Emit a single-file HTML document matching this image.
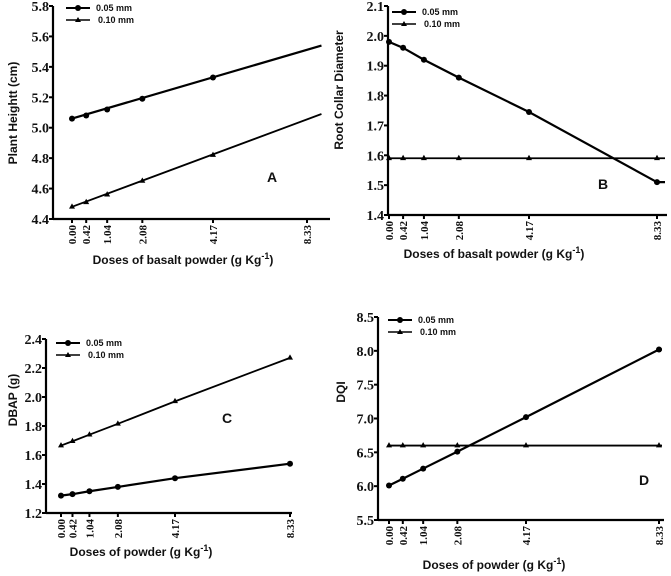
<!DOCTYPE html>
<html><head><meta charset="utf-8"><style>
html,body{margin:0;padding:0;background:#fff;}
svg{display:block;}
.tk{font-family:"Liberation Serif",serif;font-weight:bold;font-size:14px;fill:#111;}
.tx{font-family:"Liberation Serif",serif;font-weight:bold;font-size:11px;fill:#111;}
.tt{font-family:"Liberation Sans",sans-serif;font-weight:bold;font-size:12px;fill:#111;}
.lg{font-family:"Liberation Sans",sans-serif;font-weight:bold;font-size:9px;fill:#111;}
.pl{font-family:"Liberation Sans",sans-serif;font-weight:bold;font-size:14px;fill:#111;}
</style></head><body>
<svg id="chart" width="671" height="576"></svg>
<script>
const doses=[0,0.42,1.04,2.08,4.17,8.33];
const doseLabels=["0.00","0.42","1.04","2.08","4.17","8.33"];
const aTicks=[4.4,4.6,4.8,5.0,5.2,5.4,5.6,5.8];
const a05=[5.06,5.08,5.12,5.19,5.33];
const a10=[4.48,4.51,4.56,4.65,4.82];
const aFit05=5.54, aFit10=5.09;
const bTicks=[1.4,1.5,1.6,1.7,1.8,1.9,2.0,2.1];
const b05=[1.98,1.96,1.92,1.86,1.745,1.51];
const b10=[1.59,1.59,1.59,1.59,1.59,1.59];
const cTicks=[1.2,1.4,1.6,1.8,2.0,2.2,2.4];
const c05=[1.32,1.33,1.35,1.38,1.44,1.54];
const c10=[1.665,1.695,1.74,1.815,1.97,2.27];
const dTicks=[5.5,6.0,6.5,7.0,7.5,8.0,8.5];
const d05=[6.01,6.11,6.26,6.51,7.02,8.02];
const d10=[6.6,6.6,6.6,6.6,6.6,6.6];

const NS="http://www.w3.org/2000/svg";
const svg=document.getElementById('chart');
function mk(tag,at,parent,txt){const e=document.createElementNS(NS,tag);for(const k in at)e.setAttribute(k,at[k]);if(txt!==undefined)e.textContent=txt;(parent||svg).appendChild(e);return e;}

function panel(p){
  const g=mk('g',{});
  
  
  const ymin=p.ticks[0],ymax=p.ticks[p.ticks.length-1];
  const y=v=>p.yb+(v-ymin)/(ymax-ymin)*(p.yt-p.yb);
  const x=d=>d<=4.17?p.xr[0]+d/4.17*(p.xr[1]-p.xr[0]):p.xr[1]+(d-4.17)/4.16*(p.xr[2]-p.xr[1]);
  const ya=mk('line',{x1:p.ax,y1:p.yt,x2:p.ax,y2:p.yb+1,stroke:'#000','stroke-width':2.2},g);
  
  const xa=mk('line',{x1:p.ax,y1:p.yb,x2:p.xend,y2:p.yb,stroke:'#000','stroke-width':2.2},g);
  
  p.ticks.forEach(t=>{
    mk('line',{x1:p.ax-4,y1:y(t),x2:p.ax,y2:y(t),stroke:'#000','stroke-width':2},g);
    const l=mk('text',{x:p.ax-4,y:y(t)+5,'text-anchor':'end',class:'tk'},g,t.toFixed(1));
    
  });
  doses.forEach((d,i)=>{
    mk('line',{x1:x(d),y1:p.yb,x2:x(d),y2:p.yb+4,stroke:'#000','stroke-width':2},g);
    const l=mk('text',{x:0,y:0,'text-anchor':'end',class:'tx',transform:`translate(${x(d)+4},${p.yb+6}) rotate(-90)`},g,doseLabels[i]);
    
  });
  [[p.s05,'circle',p.fit05],[p.s10,'tri',p.fit10]].forEach(([s,m,fit])=>{
    let pts=s.map((v,i)=>[x(doses[i]),y(v)]);
    let lp=pts.slice();
    if(fit!==undefined) lp=[pts[0],[x(p.fitDose),y(fit)]];
    if(p.extendFlat) lp.push([p.xend-2,y(s[s.length-1])]);
    const pl=mk('polyline',{points:lp.map(q=>q.join(',')).join(' '),fill:'none',stroke:'#000','stroke-width':m==='circle'?2.2:1.8},g);
    
    pts.forEach(q=>{
      let e;
      if(m==='circle') e=mk('circle',{cx:q[0],cy:q[1],r:3,fill:'#000'},g);
      else e=mk('polygon',{points:`${q[0]},${q[1]-3.5} ${q[0]-3},${q[1]+1.8} ${q[0]+3},${q[1]+1.8}`,fill:'#000'},g);
      
    });
  });
  const lg=mk('g',{},g);
  const [lx,ly]=p.leg;
  mk('line',{x1:lx,y1:ly,x2:lx+24,y2:ly,stroke:'#000','stroke-width':2},lg);
  mk('circle',{cx:lx+12,cy:ly,r:3,fill:'#000'},lg);
  mk('text',{x:lx+30,y:ly+3,class:'lg'},lg,'0.05 mm');
  mk('line',{x1:lx,y1:ly+12,x2:lx+24,y2:ly+12,stroke:'#000','stroke-width':1.6},lg);
  mk('polygon',{points:`${lx+12},${ly+9} ${lx+9},${ly+14} ${lx+15},${ly+14}`,fill:'#000'},lg);
  mk('text',{x:lx+32,y:ly+15,class:'lg'},lg,'0.10 mm');
  const yt=mk('text',{x:0,y:0,'text-anchor':'middle',class:'tt',transform:`translate(${p.ytitle[0]},${p.ytitle[1]}) rotate(-90)`},g,p.ylab);
  
  const xt=mk('text',{x:p.xtitle[0],y:p.xtitle[1],'text-anchor':'middle',class:'tt'},g);
  
  xt.appendChild(document.createTextNode(p.xlab+' (g Kg'));
  mk('tspan',{dy:-5,'font-size':9},xt,'-1');
  mk('tspan',{dy:5},xt,')');
  const pl=mk('text',{x:p.letter[0],y:p.letter[1],'text-anchor':'middle',class:'pl'},g,p.L);
  
}
panel({name:'panel-a',ticks:aTicks,yt:6,yb:219,ax:53,xend:330,xr:[72,213,307],s05:a05,s10:a10,fit05:aFit05,fit10:aFit10,fitDose:8.97,
  leg:[66,8],ylab:'Plant Heightt (cm)',ytitle:[17,113],xlab:'Doses of basalt powder',xtitle:[183,264],L:'A',letter:[272,182]});
panel({name:'panel-b',ticks:bTicks,yt:6,yb:215,ax:388,xend:667,xr:[389,529,657],s05:b05,s10:b10,extendFlat:true,
  leg:[392,12],ylab:'Root Collar Diameter',ytitle:[343,90],xlab:'Doses of basalt powder',xtitle:[494,258],L:'B',letter:[603,189]});
panel({name:'panel-c',ticks:cTicks,yt:339,yb:513,ax:46,xend:292,xr:[61,175,290],s05:c05,s10:c10,
  leg:[56,343],ylab:'DBAP (g)',ytitle:[17,400],xlab:'Doses of powder',xtitle:[141,556],L:'C',letter:[227,423]});
panel({name:'panel-d',ticks:dTicks,yt:317,yb:520,ax:378,xend:664,xr:[389,526,659],s05:d05,s10:d10,extendFlat:true,
  leg:[388,320],ylab:'DQI',ytitle:[345,392],xlab:'Doses of powder',xtitle:[494,569],L:'D',letter:[644,485]});
</script>
</body></html>
